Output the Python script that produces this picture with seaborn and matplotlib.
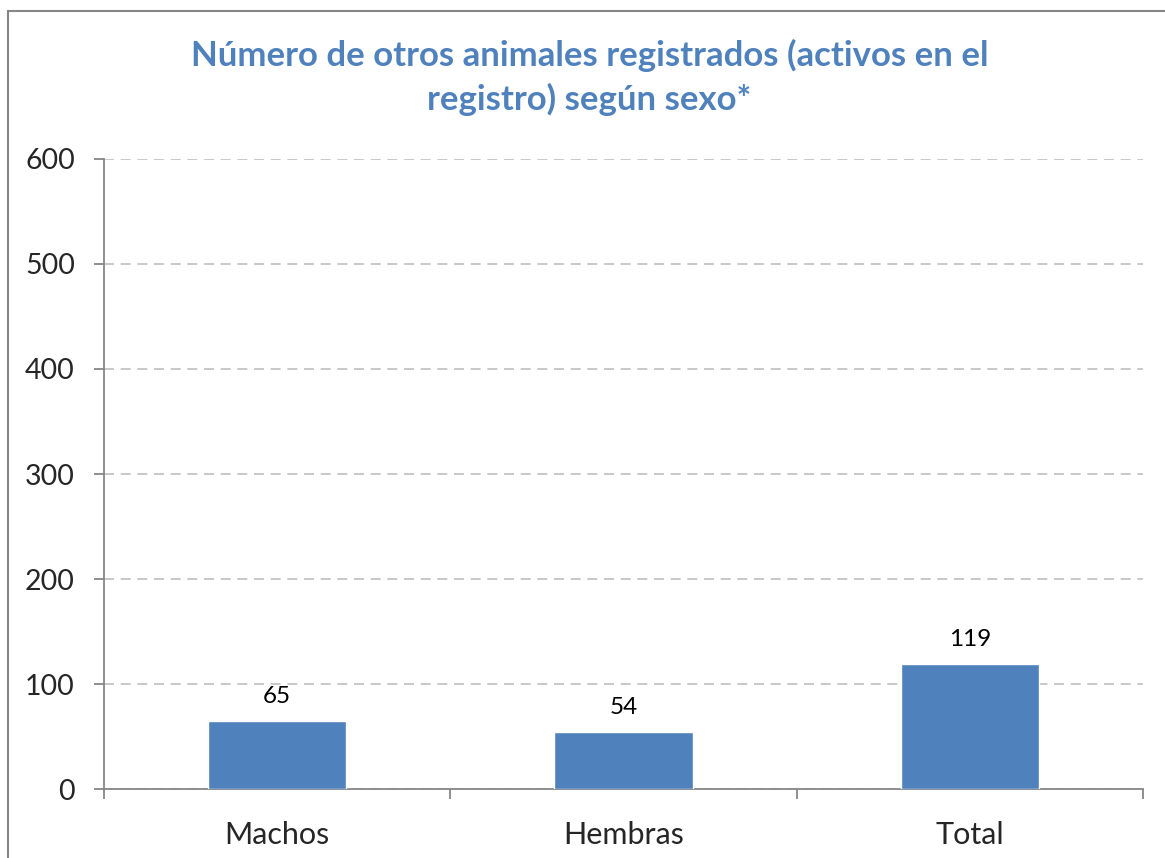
import pandas as pd
import seaborn as sns
import matplotlib.pyplot as plt
from matplotlib.patches import Rectangle
from matplotlib.ticker import FixedLocator

# data
categorias = ['Machos', 'Hembras', 'Total']
valores = [65, 54, 119]
y_ticks = [0, 100, 200, 300, 400, 500, 600]

df = pd.DataFrame({'Sexo': categorias, 'Animales': valores})

sns.set_theme(style="white")
plt.rcParams['font.family'] = ['Lato', 'DejaVu Sans']

fig = plt.figure(figsize=(11.65, 8.58), dpi=100)
ax = fig.add_axes([0.0893, 0.0804, 0.8918, 0.7343])

sns.barplot(x='Sexo', y='Animales', data=df, color='#4F81BD', width=0.4,
            saturation=1, ax=ax, zorder=3)

# labels over the bars
for cont in ax.containers:
    ax.bar_label(cont, labels=[str(v) for v in valores], padding=10,
                 fontsize=17.5, color='black')

ax.set_ylim(0, 600)
ax.set_xlim(-0.5, 2.5)
ax.set_yticks(y_ticks)
ax.yaxis.grid(True, color='#BFBFBF', linestyle=(0, (6, 4)), linewidth=1.2)
ax.set_axisbelow(True)

ax.set_xlabel('')
ax.set_ylabel('')

for s in ['top', 'right']:
    ax.spines[s].set_visible(False)
for s in ['left', 'bottom']:
    ax.spines[s].set_color('#868686')
    ax.spines[s].set_linewidth(1.3)

ax.xaxis.set_minor_locator(FixedLocator([-0.5, 0.5, 1.5, 2.5]))
ax.tick_params(axis='x', which='major', length=0, pad=23, labelsize=22)
ax.tick_params(axis='x', which='minor', length=7, width=1.3, color='#868686',
               direction='out', bottom=True)
ax.tick_params(axis='y', length=7, width=1.3, color='#868686', direction='out',
               left=True, pad=14, labelsize=20.5)

fig.text(0.506, 0.910,
         'Número de otros animales registrados (activos en el\nregistro) según sexo*',
         ha='center', va='center', fontsize=25, fontweight='bold',
         color='#4F81BD', linespacing=1.4)

# outer chart frame (clipped at right and bottom like the source)
fig.patches.append(Rectangle((0.0069, -0.1), 2, 1.087, transform=fig.transFigure,
                             fill=False, edgecolor='#868686', linewidth=1.5))

fig.savefig('out.png', dpi=100)
